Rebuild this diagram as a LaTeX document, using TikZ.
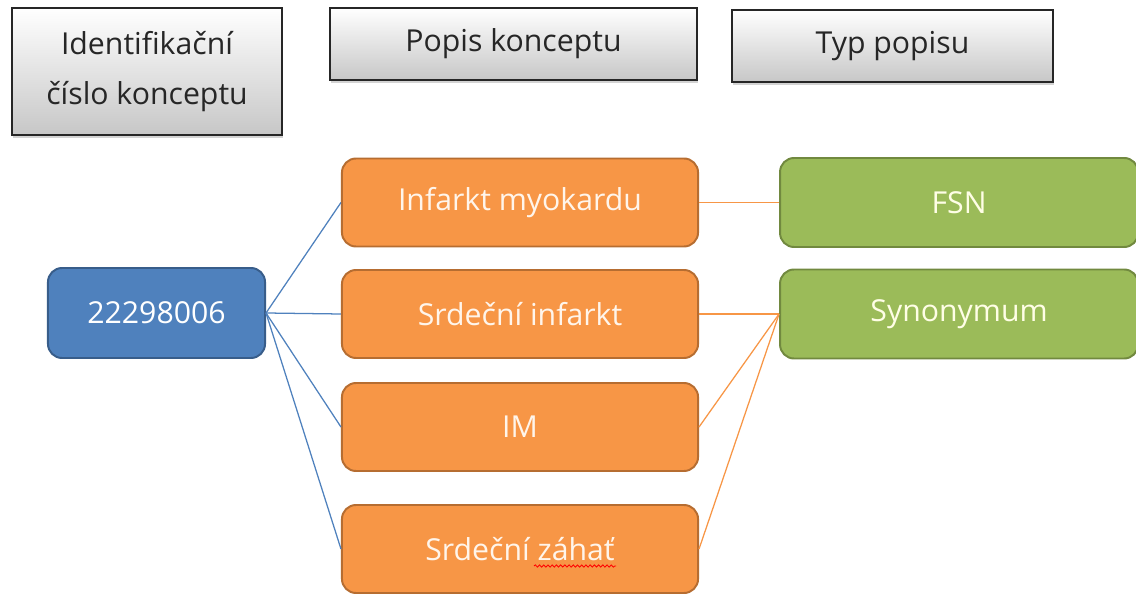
\documentclass[tikz,border=0pt]{standalone}
\usepackage{fontspec}
\setmainfont{Open Sans}
\usetikzlibrary{positioning,shadows,decorations.pathmorphing}
\definecolor{idblue}{HTML}{4F81BD}
\definecolor{idblueline}{HTML}{385D8A}
\definecolor{descorange}{HTML}{F79646}
\definecolor{descorangeline}{HTML}{B66D31}
\definecolor{typegreen}{HTML}{9BBB59}
\definecolor{typegreenline}{HTML}{71893F}
\tikzset{hdr/.style={draw=black!85,line width=1.4pt,top color=white,bottom color=black!22,
		drop shadow={shadow xshift=1pt,shadow yshift=-2pt,opacity=0.35},
		align=center,text=black!85,font=\fontsize{21.5}{36}\selectfont},
	 idbox/.style={rounded corners=10pt,draw=idblueline,fill=idblue,line width=1.4pt,
		text=white,minimum width=5.425cm,minimum height=2.25cm,font=\fontsize{21.5}{26}\selectfont},
	 descbox/.style={rounded corners=10pt,draw=descorangeline,fill=descorange,line width=1.4pt,
		text=orange!8,minimum width=8.9cm,minimum height=2.2cm,font=\fontsize{21.5}{26}\selectfont},
	 typebox/.style={rounded corners=10pt,draw=typegreenline,fill=typegreen,line width=1.4pt,
		text=yellow!10,minimum width=8.95cm,minimum height=2.225cm,font=\fontsize{21.5}{26}\selectfont},
	 blueline/.style={draw=idblue,line width=0.9pt},
	 orangeline/.style={draw=descorange,line width=0.9pt},
	 spell/.style={draw=red,line width=0.6pt,decorate,decoration={snake,amplitude=0.8pt,segment length=3pt}},
	 node distance = 2cm
	 }
\begin{document}
\begin{tikzpicture}[x=0.025cm,y=-0.025cm] % concept with its descriptions
	\useasboundingbox (0,0) rectangle (1136,596);
	\node[hdr,minimum width=6.75cm,minimum height=3.175cm] (h1) at (147,71.5) {Identifikační\\číslo konceptu};
	\node[hdr,minimum width=9.175cm,minimum height=1.8cm] (h2) at (513.5,44) {Popis konceptu};
	\node[hdr,minimum width=8.025cm,minimum height=1.8cm] (h3) at (892.5,46) {Typ popisu};
	\node[idbox] (id) at (156.5,313) {22298006};
	\node[descbox] (d1) at (520,202.5) {Infarkt myokardu};
	\node[descbox] (d2) at (520,314) {Srdeční infarkt};
	\node[descbox] (d3) at (520,427) {IM};
	\node[descbox] (d4) at (520,549) {Srdeční záhať};
	\node[typebox] (t1) [right=of d1] {FSN};
	\node[typebox] (t2) [right=of d2] {Synonymum};
	\draw[blueline] (id.east) -- (d1.west);
	\draw[blueline] (id.east) -- (d2.west);
	\draw[blueline] (id.east) -- (d3.west);
	\draw[blueline] (id.east) -- (d4.west);
	\draw[orangeline] (d1.east) -- (t1.west);
	\draw[orangeline] (d2.east) -- (t2.west);
	\draw[orangeline] (d3.east) -- (t2.west);
	\draw[orangeline] (d4.east) -- (t2.west);
	\draw[spell] (534,566) -- (616,566);
\end{tikzpicture}
\end{document}
